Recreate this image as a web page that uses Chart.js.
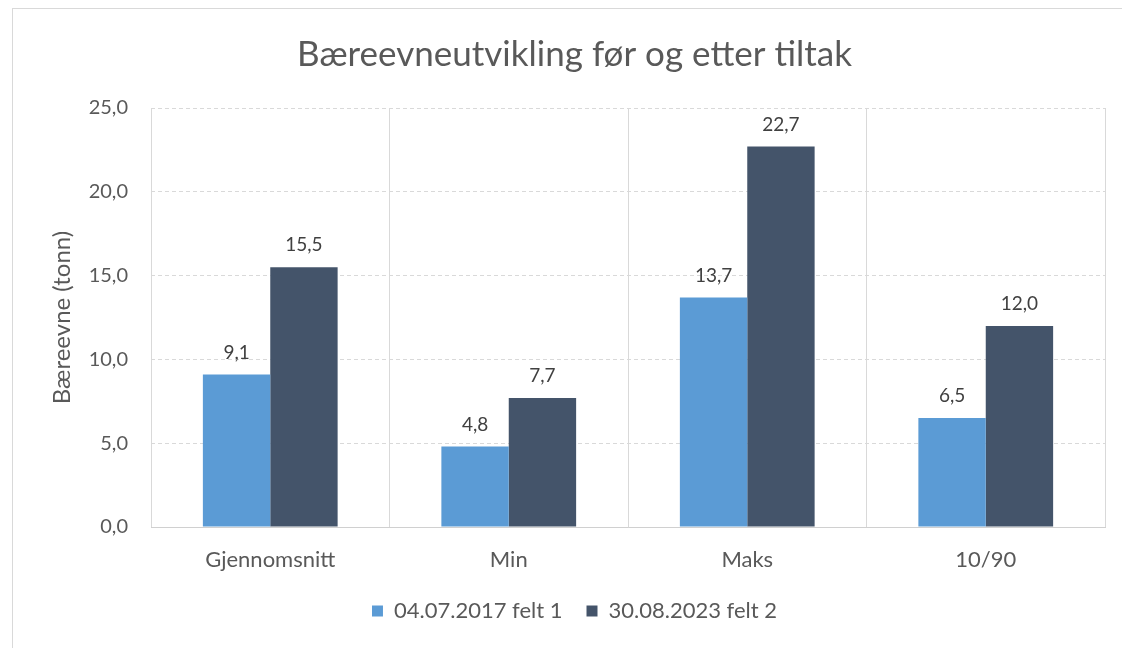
<!DOCTYPE html>
<html>
<head>
<meta charset="utf-8">
<script src="https://cdn.jsdelivr.net/npm/chart.js@4/dist/chart.umd.min.js"></script>
<style>
    body { margin: 0; background: #fff; }
    #ramme { position: absolute; left: 12px; top: 8px; width: 1120px; height: 650px; border: 1px solid #d9d9d9; }
    #graf { position: absolute; left: 0; top: 0; }
</style>
</head>
<body>
<div id="ramme"></div>
<canvas id="graf" width="1122" height="648"></canvas>
<script>
const kategorier = ['Gjennomsnitt', 'Min', 'Maks', '10/90'];
const felt1 = [9.1, 4.8, 13.7, 6.5];
const felt2 = [15.5, 7.7, 22.7, 12.0];
const serieNavn = ['04.07.2017 felt 1', '30.08.2023 felt 2'];

const skrift = 'Lato, "Open Sans", sans-serif';
const komma = v => Number(v).toFixed(1).replace('.', ',');

// tall over stolpene
const verdiEtiketter = {
    id: 'verdiEtiketter',
    afterDatasetsDraw(chart) {
        const ctx = chart.ctx;
        ctx.save();
        ctx.font = '19px ' + skrift;
        ctx.fillStyle = '#404040';
        ctx.textAlign = 'center';
        ctx.textBaseline = 'middle';
        chart.data.datasets.forEach((ds, i) => {
            chart.getDatasetMeta(i).data.forEach((bar, j) => {
                ctx.fillText(komma(ds.data[j]), bar.x, bar.y - 22);
            });
        });
        ctx.restore();
    }
};

new Chart(document.getElementById('graf'), {
    type: 'bar',
    data: {
        labels: kategorier,
        datasets: [
            { label: serieNavn[0], data: felt1, backgroundColor: '#5b9bd5' },
            { label: serieNavn[1], data: felt2, backgroundColor: '#44546a' }
        ]
    },
    options: {
        responsive: false,
        animation: false,
        layout: { padding: { left: 44, right: 17, top: 0, bottom: 16 } },
        datasets: { bar: { categoryPercentage: 0.565, barPercentage: 1 } },
        plugins: {
            title: {
                display: true,
                text: 'Bæreevneutvikling før og etter tiltak',
                color: '#595959',
                font: { family: skrift, size: 35, weight: 'normal' },
                padding: { top: 34, bottom: 32 }
            },
            legend: {
                position: 'bottom',
                labels: {
                    color: '#595959',
                    font: { family: skrift, size: 22 },
                    boxWidth: 11,
                    boxHeight: 11,
                    padding: 24
                }
            },
            tooltip: { enabled: false }
        },
        scales: {
            x: {
                grid: { color: '#d9d9d9', drawTicks: false, offset: true },
                border: { color: '#d0d0d0' },
                ticks: { color: '#595959', font: { family: skrift, size: 22 }, padding: 20 },
                afterFit(scale) { scale.height = 49; }
            },
            y: {
                min: 0,
                max: 25,
                ticks: {
                    stepSize: 5,
                    color: '#595959',
                    font: { family: skrift, size: 20 },
                    padding: 23,
                    callback: v => komma(v)
                },
                grid: { color: '#d9d9d9', drawTicks: false },
                border: { display: false, dash: [4, 3] },
                title: {
                    display: true,
                    text: 'Bæreevne (tonn)',
                    color: '#595959',
                    font: { family: skrift, size: 24 }
                },
                afterFit(scale) { scale.width = 107; }
            }
        }
    },
    plugins: [verdiEtiketter]
});
</script>
</body>
</html>
